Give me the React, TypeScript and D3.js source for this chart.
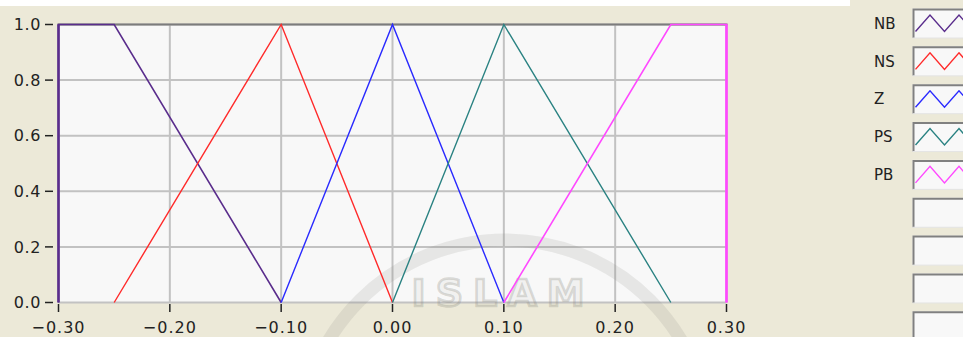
import React from "react";
import * as d3 from "d3";

// Membership functions of the fuzzy sets (x = universe of discourse, y = degree)
const setNames = ["NB", "NS", "Z", "PS", "PB"];
const nbX = [-0.3, -0.3, -0.25, -0.1];
const nbY = [0, 1, 1, 0];
const nsX = [-0.25, -0.1, 0.0];
const nsY = [0, 1, 0];
const zX = [-0.1, 0.0, 0.1];
const zY = [0, 1, 0];
const psX = [0.0, 0.1, 0.25];
const psY = [0, 1, 0];
const pbX = [0.1, 0.25, 0.3, 0.3];
const pbY = [0, 1, 1, 0];

const xTickValues = [-0.3, -0.2, -0.1, 0.0, 0.1, 0.2, 0.3];
const yTickValues = [0.0, 0.2, 0.4, 0.6, 0.8, 1.0];
const emptyLegendSlots = 4;

const seriesColors = ["#5a2d8c", "#ff2a2a", "#2a2aff", "#2a8282", "#ff48ff"];

const W = 963;
const H = 337;
const FONT = "'DejaVu Sans', Verdana, sans-serif";

export default function App() {
  const x = d3.scaleLinear().domain([-0.3, 0.3]).range([58.5, 726.5]);
  const y = d3.scaleLinear().domain([0, 1]).range([302.5, 24.5]);
  const fmtX = d3.format(".2f");
  const fmtY = d3.format(".1f");

  const series = [
    { xs: nbX, ys: nbY },
    { xs: nsX, ys: nsY },
    { xs: zX, ys: zY },
    { xs: psX, ys: psY },
    { xs: pbX, ys: pbY },
  ];
  const line = d3
    .line<[number, number]>()
    .x((d) => x(d[0]))
    .y((d) => y(d[1]));

  const [x0, x1] = x.range();
  const [yb, yt] = y.range();

  // legend layout
  const legTop = 8.5;
  const legStep = 37.85;
  const boxX = 912.5;
  const boxH = 29.5;
  const slots = setNames.length + emptyLegendSlots;

  // small zigzag sample drawn inside each legend swatch
  const zig = (top: number) => {
    const pts: [number, number][] = [];
    for (let i = 0; i < 5; i++) {
      pts.push([915.5 + i * 14.5, top + (i % 2 === 0 ? 23 : 6.5)]);
    }
    return d3.line()(pts) as string;
  };

  return (
    <svg
      width={W}
      height={H}
      style={{ position: "absolute", left: 0, top: 0, display: "block" }}
      fontFamily={FONT}
    >
      <defs>
        <clipPath id="legend-clip">
          <rect x={0} y={0} width={W} height={H} />
        </clipPath>
      </defs>
      <rect x={0} y={0} width={W} height={H} fill="#ece9d8" />
      <rect x={0} y={0} width={850} height={6} fill="#ffffff" />

      {/* plot area */}
      <rect x={x0} y={yt} width={x1 - x0} height={yb - yt} fill="#f8f8f8" />

      {/* grid */}
      {xTickValues.map((v) => (
        <line
          key={"gx" + v}
          x1={x(v)}
          x2={x(v)}
          y1={yt}
          y2={yb}
          stroke="#c2c2c2"
          strokeWidth={2}
        />
      ))}
      {yTickValues.map((v) => (
        <line
          key={"gy" + v}
          x1={x0}
          x2={x1}
          y1={y(v)}
          y2={y(v)}
          stroke="#c2c2c2"
          strokeWidth={2}
        />
      ))}
      <line x1={x0 - 1} x2={x1 + 1} y1={yt} y2={yt} stroke="#7c7c7c" strokeWidth={2} />

      {/* faint seal in the background */}
      <g>
        <circle cx={505} cy={445} r={205} fill="none" stroke="#8a8a80" strokeOpacity={0.16} strokeWidth={13} />
        <text
          x={503}
          y={306}
          textAnchor="middle"
          fontSize={38}
          fontWeight="bold"
          letterSpacing={10}
          fill="#8a8a80"
          fillOpacity={0.06}
          stroke="#8a8a80"
          strokeOpacity={0.3}
          strokeWidth={2.5}
        >
          ISLAM
        </text>
      </g>

      {/* membership functions */}
      {series.map((s, i) => (
        <path
          key={setNames[i]}
          d={line(s.xs.map((v, j) => [v, s.ys[j]] as [number, number])) as string}
          fill="none"
          stroke={seriesColors[i]}
          strokeWidth={i === 0 || i === 4 ? 1.6 : 1.4}
        />
      ))}
      {/* thicker edges of the shoulder sets */}
      <line x1={x(-0.3)} x2={x(-0.3)} y1={y(0)} y2={y(1)} stroke={seriesColors[0]} strokeWidth={2.5} />
      <line x1={x(0.3)} x2={x(0.3)} y1={y(0)} y2={y(1)} stroke={seriesColors[4]} strokeWidth={2.5} />

      {/* y axis */}
      {yTickValues.map((v) => (
        <g key={"ty" + v}>
          <line x1={45} x2={53} y1={y(v)} y2={y(v)} stroke="#222" strokeWidth={1.5} />
          <text
            x={41}
            y={y(v)}
            dy="0.36em"
            textAnchor="end"
            fontSize={16}
            letterSpacing={0.6}
            fill="#222"
          >
            {fmtY(v)}
          </text>
        </g>
      ))}

      {/* x axis */}
      {xTickValues.map((v) => (
        <g key={"tx" + v}>
          <line x1={x(v)} x2={x(v)} y1={304} y2={312} stroke="#222" strokeWidth={1.5} />
          <text
            x={x(v)}
            y={333}
            textAnchor="middle"
            fontSize={16}
            letterSpacing={1}
            fill="#222"
          >
            {fmtX(v)}
          </text>
        </g>
      ))}

      {/* legend */}
      <g clipPath="url(#legend-clip)">
        {d3.range(slots).map((i) => {
          const top = legTop + i * legStep;
          return (
            <g key={"leg" + i}>
              <rect x={boxX} y={top} width={W - boxX + 5} height={boxH} fill="#f8f8f8" />
              <path
                d={`M${boxX + 1},${top + boxH} V${top + 1} H${W}`}
                fill="none"
                stroke="#808080"
                strokeWidth={2}
              />
              <line x1={boxX} x2={W} y1={top + boxH} y2={top + boxH} stroke="#e4e4e4" strokeWidth={1} />
              {i < setNames.length && (
                <>
                  <path d={zig(top)} fill="none" stroke={seriesColors[i]} strokeWidth={1.4} />
                  <text
                    x={874}
                    y={top + boxH / 2}
                    dy="0.36em"
                    fontSize={15}
                    fill="#222"
                  >
                    {setNames[i]}
                  </text>
                </>
              )}
            </g>
          );
        })}
      </g>
    </svg>
  );
}
